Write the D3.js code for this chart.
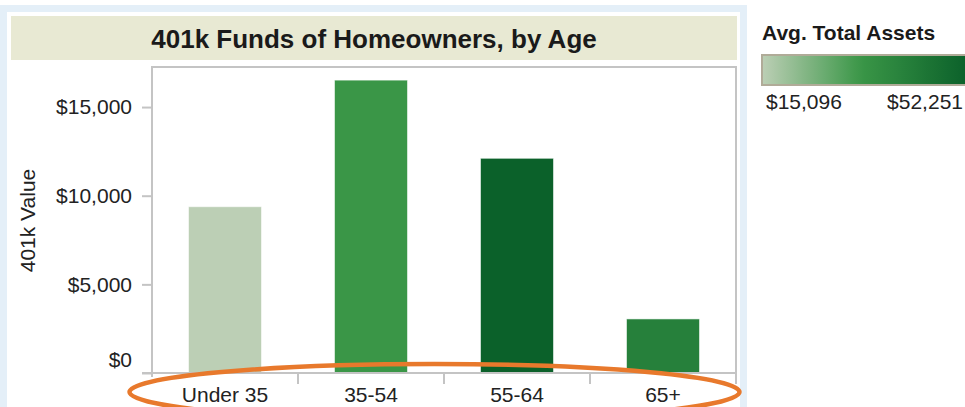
<!DOCTYPE html>
<html>
<head>
<meta charset="utf-8">
<script src="https://cdnjs.cloudflare.com/ajax/libs/d3/7.8.5/d3.min.js"></script>
<style>
  html, body { margin: 0; padding: 0; background: #fff; }
  svg { display: block; font-family: "Liberation Sans", Arial, sans-serif; }
</style>
</head>
<body>
<div id="chart"></div>
<script>
// data
var ageGroups = ["Under 35", "35-54", "55-64", "65+"];
var fundValues = [9380, 16520, 12110, 3050];      // 401k value per age group
var avgAssets = [15096, 33000, 52251, 41100];     // colour measure
var yTicks = [0, 5000, 10000, 15000];
var legendLabels = ["$15,096", "$52,251"];
var colorStops = ["#bccfb5", "#3a9647", "#0b612a"];

var W = 965, H = 407;
var plot = {left: 152, right: 736, top: 67, bottom: 373};

var svg = d3.select("#chart").append("svg")
    .attr("width", W)
    .attr("height", H);

// outer light blue panel
svg.append("rect")
    .attr("x", 3.5).attr("y", 8.5)
    .attr("width", 740).attr("height", 420)
    .attr("fill", "#fff")
    .attr("stroke", "#e4eff8")
    .attr("stroke-width", 7);

// title band
svg.append("rect")
    .attr("x", 11).attr("y", 16)
    .attr("width", 726).attr("height", 44)
    .attr("fill", "#e8e9d3");

svg.append("text")
    .attr("x", 374).attr("y", 48)
    .attr("text-anchor", "middle")
    .attr("font-size", "26px")
    .attr("font-weight", "bold")
    .attr("fill", "#1a1a1a")
    .text("401k Funds of Homeowners, by Age");

var x = d3.scaleBand()
    .domain(ageGroups)
    .range([plot.left, plot.right])
    .paddingInner(0.5)
    .paddingOuter(0.25);

var y = d3.scaleLinear()
    .domain([0, 17260])
    .range([plot.bottom, plot.top]);

var color = d3.scaleLinear()
    .domain([d3.min(avgAssets), 33000, d3.max(avgAssets)])
    .range(colorStops);

var data = ageGroups.map(function(d, i){
  return {label: d, value: fundValues[i], assets: avgAssets[i]};
});

// plot frame
svg.append("rect")
    .attr("x", plot.left).attr("y", plot.top)
    .attr("width", plot.right - plot.left)
    .attr("height", plot.bottom - plot.top)
    .attr("fill", "none")
    .attr("stroke", "#c4c4c4")
    .attr("stroke-width", 2);

// bars
svg.append("g")
  .selectAll("rect")
  .data(data)
  .enter().append("rect")
    .attr("x", function(d){ return x(d.label); })
    .attr("y", function(d){ return y(d.value); })
    .attr("width", x.bandwidth())
    .attr("height", function(d){ return y(0) - y(d.value); })
    .attr("fill", function(d){ return color(d.assets); })
    .attr("stroke", "rgba(255,255,255,0.55)")
    .attr("stroke-width", 1);

// y axis
var yAxis = svg.append("g")
    .attr("class", "yAxis")
    .attr("transform", "translate(" + plot.left + ",0)")
    .call(d3.axisLeft(y).tickValues(yTicks).tickSize(10).tickPadding(10)
      .tickFormat(function(d){ return "$" + d3.format(",")(d); }));
yAxis.select(".domain").remove();
yAxis.selectAll(".tick line").attr("stroke", "#c4c4c4").attr("stroke-width", 2);
yAxis.selectAll(".tick text")
    .attr("font-size", "21px")
    .attr("font-family", "Liberation Sans, Arial, sans-serif")
    .attr("fill", "#222")
    .attr("y", function(d){ return d === 0 ? -13 : 0; });

svg.append("text")
    .attr("transform", "translate(35,220.5) rotate(-90)")
    .attr("text-anchor", "middle")
    .attr("font-size", "21px")
    .attr("fill", "#222")
    .text("401k Value");

// x axis
var xAxis = svg.append("g")
    .attr("class", "xAxis")
    .attr("transform", "translate(0," + plot.bottom + ")")
    .call(d3.axisBottom(x).tickSize(0).tickPadding(14));
xAxis.select(".domain").remove();
xAxis.selectAll(".tick text")
    .attr("font-size", "21px")
    .attr("font-family", "Liberation Sans, Arial, sans-serif")
    .attr("fill", "#222");

svg.append("line")
    .attr("x1", plot.left - 10).attr("x2", plot.right)
    .attr("y1", plot.bottom).attr("y2", plot.bottom)
    .attr("stroke", "#c4c4c4").attr("stroke-width", 2);

// category dividers below the axis
var bounds = ageGroups.map(function(d){ return x(d) - x.step() * 0.25; });
bounds.push(plot.right);
svg.append("g")
  .selectAll("line")
  .data(bounds)
  .enter().append("line")
    .attr("x1", function(d){ return d; })
    .attr("x2", function(d){ return d; })
    .attr("y1", plot.bottom)
    .attr("y2", function(d, i){ return i === 0 ? plot.bottom + 4 : plot.bottom + 11; })
    .attr("stroke", "#c4c4c4").attr("stroke-width", 2);

// colour legend
svg.append("text")
    .attr("x", 762).attr("y", 40)
    .attr("font-size", "21px")
    .attr("font-weight", "bold")
    .attr("fill", "#1a1a1a")
    .text("Avg. Total Assets");

var defs = svg.append("defs");
var grad = defs.append("linearGradient").attr("id", "assetGrad");
var cDom = color.domain();
var lo = cDom[0], hi = cDom[cDom.length - 1];
d3.range(0, 1.0001, 0.05).forEach(function(t){
  grad.append("stop")
      .attr("offset", (t * 100) + "%")
      .attr("stop-color", color(lo + t * (hi - lo)));
});

var legX = d3.scaleLinear().domain([lo, hi]).range([762, 967]);
svg.append("rect")
    .attr("x", legX(lo)).attr("y", 55)
    .attr("width", legX(hi) - legX(lo)).attr("height", 30)
    .attr("fill", "url(#assetGrad)")
    .attr("stroke", "#b0ab98")
    .attr("stroke-width", 2);

svg.append("text")
    .attr("x", legX(lo) + 4).attr("y", 109)
    .attr("font-size", "21px")
    .attr("fill", "#222")
    .text(legendLabels[0]);
svg.append("text")
    .attr("x", legX(hi) - 4).attr("y", 109)
    .attr("text-anchor", "end")
    .attr("font-size", "21px")
    .attr("fill", "#222")
    .text(legendLabels[1]);

// orange annotation ring around the category labels
svg.append("ellipse")
    .attr("cx", 434.5).attr("cy", 392)
    .attr("rx", 305).attr("ry", 28)
    .attr("fill", "none")
    .attr("stroke", "#e8792c")
    .attr("stroke-width", 4.5);
</script>
</body>
</html>
